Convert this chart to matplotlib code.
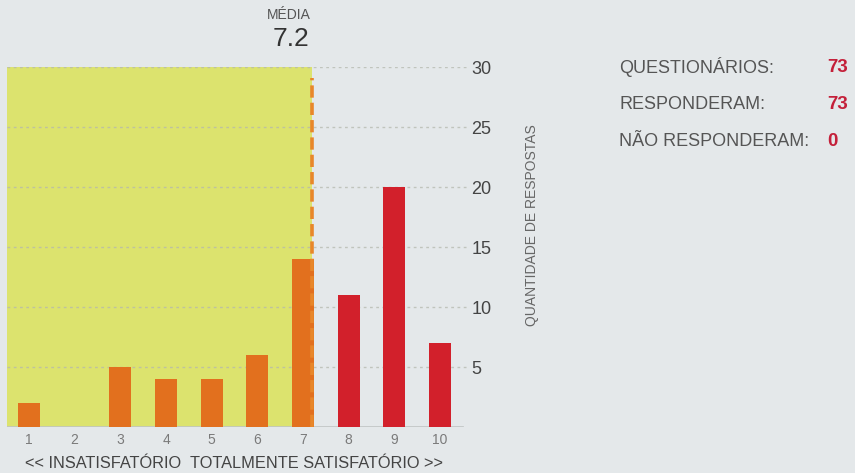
import matplotlib
matplotlib.use("Agg")
import matplotlib.pyplot as plt

# data
notas = [1, 2, 3, 4, 5, 6, 7, 8, 9, 10]
respostas = [2, 0, 5, 4, 4, 6, 14, 11, 20, 7]
media = 7.2
y_ticks = [5, 10, 15, 20, 25, 30]
resumo_labels = ["QUESTIONÁRIOS:", "RESPONDERAM:", "NÃO RESPONDERAM:"]
resumo_valores = ["73", "73", "0"]

plt.rcParams['font.family'] = ['Liberation Sans', 'DejaVu Sans']

BG = '#e4e8ea'
YELLOW = '#dce36e'
ORANGE = '#e2701e'
RED = '#d2202b'
GREY = '#555555'

W, H = 855, 473
fig = plt.figure(figsize=(W / 100, H / 100), dpi=100)
fig.patch.set_facecolor(BG)


def px(x, y):
    return x / W, 1 - y / H


ax = fig.add_axes([7.1 / W, 46 / H, 460.3 / W, 360 / H])
ax.set_facecolor(BG)
ax.set_xlim(0.52, 10.6)
ax.set_ylim(0, 30)

# yellow area up to the mean
ax.axvspan(0.5, media, color=YELLOW, zorder=0, lw=0)

# dotted grid
for t in y_ticks:
    ax.axhline(t, color='#b4b8ae', lw=1, ls=(0, (2, 2.5)), alpha=0.75, zorder=1)
ax.axhline(0, xmax=0.99, color='#c0c4c4', lw=1.2, zorder=1)

colors = [ORANGE if n <= 7 else RED for n in notas]
ax.bar(notas, respostas, width=0.48, color=colors, zorder=2)

# mean line
ax.axvline(media, ymin=0, ymax=0.97, color='#e8872a', lw=2.6, ls=(0, (3.4, 1.4)), zorder=3)

for s in ax.spines.values():
    s.set_visible(False)

ax.set_xticks(notas)
ax.set_xticklabels([str(n) for n in notas])
ax.tick_params(axis='x', length=0, pad=4, labelsize=10, labelcolor='#7a7a7a')
ax.yaxis.tick_right()
ax.set_yticks(y_ticks)
ax.set_yticklabels([str(t) for t in y_ticks])
ax.tick_params(axis='y', length=0, pad=3, labelsize=13, labelcolor='#444444')

fig.text(*px(532, 225), "QUANTIDADE DE RESPOSTAS", rotation=90, ha='center', va='center',
         fontsize=10, color='#666666')

fig.text(*px(289, 15), "MÉDIA", ha='center', va='center', fontsize=10, color='#555555')
fig.text(*px(291, 39), "7.2", ha='center', va='center', fontsize=19, color='#333333')

fig.text(*px(25, 463), "<< INSATISFATÓRIO", ha='left', va='center', fontsize=11.8,
         color='#444444')
fig.text(*px(443, 463), "TOTALMENTE SATISFATÓRIO >>", ha='right', va='center', fontsize=11.8,
         color='#444444')

for i, (lab, val) in enumerate(zip(resumo_labels, resumo_valores)):
    y = 67 + i * 37
    fig.text(*px(619, y), lab, ha='left', va='center', fontsize=13, color=GREY)
    fig.text(*px(827, y), val, ha='left', va='center', fontsize=13.5, color='#c4203a',
             fontweight='bold')

fig.savefig("out.png", dpi=100, facecolor=BG)
